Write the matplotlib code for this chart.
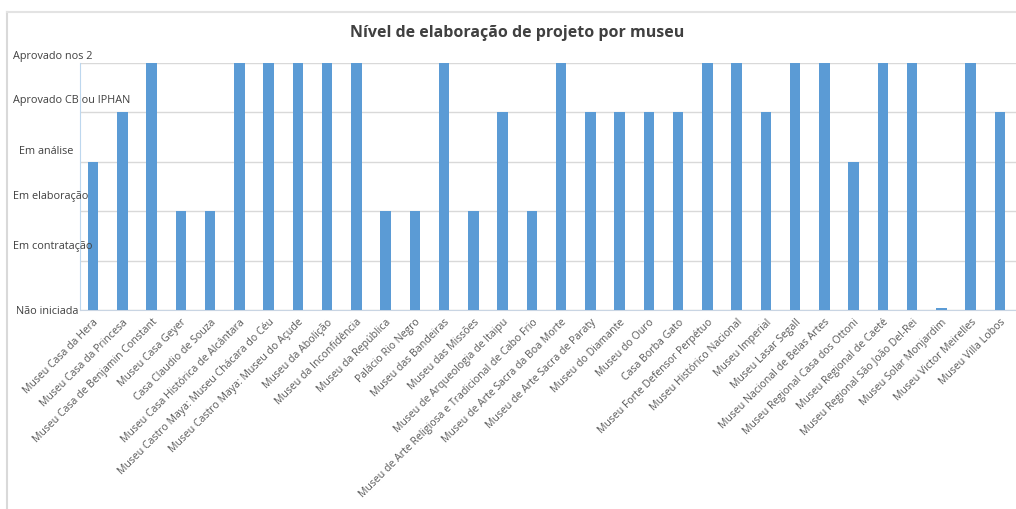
import matplotlib
matplotlib.use("Agg")
import matplotlib.pyplot as plt
from matplotlib.transforms import blended_transform_factory, offset_copy

# museus e nível (0 = Não iniciada ... 5 = Aprovado nos 2)
museus = [
    "Museu Casa da Hera", "Museu Casa da Princesa", "Museu Casa de Benjamin Constant",
    "Museu Casa Geyer", "Casa Claudio de Souza", "Museu Casa Histórica de Alcântara",
    "Museu Castro Maya: Museu Chácara do Céu", "Museu Castro Maya: Museu do Açude",
    "Museu da Abolição", "Museu da Inconfidência", "Museu da República",
    "Palácio Rio Negro", "Museu das Bandeiras", "Museu das Missões",
    "Museu de Arqueologia de Itaipu", "Museu de Arte Religiosa e Tradicional de Cabo Frio",
    "Museu de Arte Sacra da Boa Morte", "Museu de Arte Sacra de Paraty",
    "Museu do Diamante", "Museu do Ouro", "Casa Borba Gato",
    "Museu Forte Defensor Perpétuo", "Museu Histórico Nacional", "Museu Imperial",
    "Museu Lasar Segall", "Museu Nacional de Belas Artes", "Museu Regional Casa dos Ottoni",
    "Museu Regional de Caeté", "Museu Regional São João Del-Rei",
    "Museu Solar Monjardim", "Museu Victor Meirelles", "Museu Villa Lobos",
]
nivel = [3, 4, 5, 2, 2, 5, 5, 5, 5, 5, 2, 2, 5, 2, 4, 2, 5, 4, 4, 4, 4,
         5, 5, 4, 5, 5, 3, 5, 5, 0.05, 5, 4]

niveis = ["Não iniciada", "Em contratação", "Em elaboração", "Em análise",
          "Aprovado CB ou IPHAN", "Aprovado nos 2"]
# posição dos rótulos (px da esquerda, px acima da linha de grade)
rot_x = [16, 13, 13, 19, 13, 13]
rot_dy = [-1, 14, 15, 10, 12, 6]

plt.rcParams['font.family'] = ['Open Sans', 'DejaVu Sans']
cinza = '#595959'
escuro = '#404040'

W, H = 1016, 509
fig = plt.figure(figsize=(W / 100, H / 100), dpi=100)
ax = fig.add_axes([80 / W, 1 - 310 / H, 936 / W, (310 - 63) / H])

x = list(range(len(museus)))
ax.bar(x, nivel, width=0.36, color='#5B9BD5', zorder=3)
ax.set_xlim(-0.45, len(museus) - 0.45)
ax.set_ylim(0, 5)

ax.set_yticks(range(6))
ax.set_yticklabels([])
ax.tick_params(axis='y', length=0)
ax.grid(axis='y', color='#d9d9d9', linewidth=1, zorder=0)

ax.set_xticks(x)
ax.set_xticklabels(museus, rotation=45, ha='right', va='top',
                   rotation_mode='anchor', fontsize=7.6, color=cinza)
ax.tick_params(axis='x', length=0, pad=5)

for s in ['top', 'right']:
    ax.spines[s].set_visible(False)
ax.spines['left'].set_color('#bdd7ee')
ax.spines['bottom'].set_color('#c9d5e3')

trans = blended_transform_factory(fig.transFigure, ax.transData)
for i, txt in enumerate(niveis):
    t = offset_copy(trans, fig=fig, x=0, y=rot_dy[i] * 0.72, units='points')
    ax.text(rot_x[i] / W, i, txt, transform=t, ha='left', va='center',
            fontsize=7.8, color=escuro, clip_on=False, zorder=5)

fig.text(517 / W, 1 - 33 / H, "Nível de elaboração de projeto por museu",
         ha='center', va='center', fontsize=11.5, fontweight='bold', color=escuro)

# moldura da imagem
fig.add_artist(plt.Line2D([7 / W, 7 / W], [0, 1 - 12 / H], transform=fig.transFigure,
                          color='#d9d9d9', linewidth=1.5))
fig.add_artist(plt.Line2D([7 / W, 1], [1 - 12 / H, 1 - 12 / H], transform=fig.transFigure,
                          color='#e3e3e3', linewidth=1.5))

fig.savefig('out.png', dpi=100)
